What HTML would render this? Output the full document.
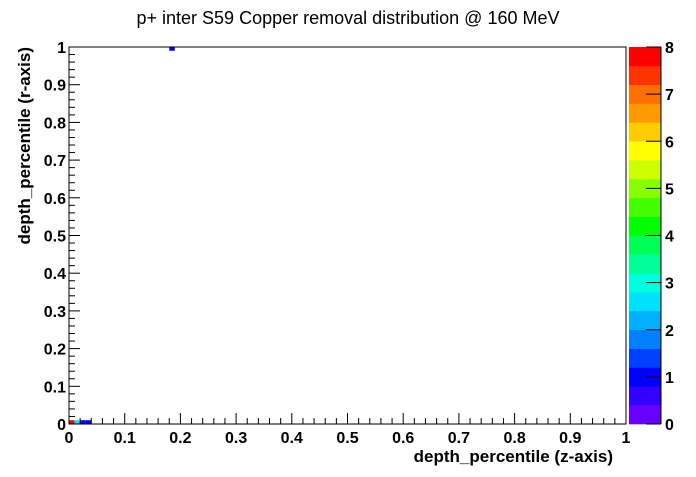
<!DOCTYPE html>
<html><head><meta charset="utf-8"><style>
body{margin:0;background:#fff}
svg text{font-family:"Liberation Sans",sans-serif}
</style></head><body>
<svg id="c" width="696" height="472" xmlns="http://www.w3.org/2000/svg">
<text x="348" y="24" text-anchor="middle" font-size="18">p+ inter S59 Copper removal distribution @ 160 MeV</text>
<g id="cells"></g>
<g id="axes"></g>
<text x="613" y="462" text-anchor="end" font-size="17" font-weight="bold">depth_percentile (z-axis)</text>
<text transform="translate(30,47) rotate(-90)" text-anchor="end" font-size="17" font-weight="bold">depth_percentile (r-axis)</text>
<g id="pal"></g>
</svg>
<script>
const cellX=[0,1,2,3,18];
const cellY=[0,0,0,0,99];
const cellV=[8,2.6,1,1,1];
const palColors=['#6600ff','#3300ff','#0000ff','#0040ff','#0080ff','#00b0ff','#00e0ff','#00ffdd','#00ff99','#00ff55','#00ff00','#44ff00','#88ff00','#ccff00','#ffff00','#ffcc00','#ff9900','#ff7000','#ff3300','#ff0000'];
const xTicks=['0','0.1','0.2','0.3','0.4','0.5','0.6','0.7','0.8','0.9','1'];
const yTicks=['0','0.1','0.2','0.3','0.4','0.5','0.6','0.7','0.8','0.9','1'];
const zTicks=['0','1','2','3','4','5','6','7','8'];
const zMax=8, nb=100;
const L=69,R=626,T=47,B=424;
const sx=v=>L+(R-L)*v, sy=v=>B-(B-T)*v;
const NS='http://www.w3.org/2000/svg';
function mk(t,a,p){const e=document.createElementNS(NS,t);for(const k in a)e.setAttribute(k,a[k]);p.appendChild(e);return e;}
const cells=document.getElementById('cells'),axes=document.getElementById('axes'),pal=document.getElementById('pal');
function col(v){let i=Math.floor(v/zMax*palColors.length);if(i>=palColors.length)i=palColors.length-1;return palColors[i];}
for(let i=0;i<cellX.length;i++){
 const x0=sx(cellX[i]/nb),x1=sx((cellX[i]+1)/nb),y1=sy(cellY[i]/nb),y0=sy((cellY[i]+1)/nb);
 const r=mk('rect',{x:x0,y:y0,width:x1-x0,height:y1-y0,fill:col(cellV[i])},cells);
 
 
}
mk('rect',{x:L,y:T,width:R-L,height:B-T,fill:'none',stroke:'#000','stroke-width':1},axes);
for(let i=0;i<=50;i++){
 const v=i/50,len=i%5==0?11:6;
 mk('line',{x1:sx(v),x2:sx(v),y1:B,y2:B-len,stroke:'#000'},axes);
 mk('line',{x1:L,x2:L+len,y1:sy(v),y2:sy(v),stroke:'#000'},axes);
}
xTicks.forEach((t,i)=>{const e=mk('text',{x:sx(i/10),y:B+19,'text-anchor':'middle','font-size':16,'font-weight':'bold'},axes);e.textContent=t;
 });
yTicks.forEach((t,i)=>{const e=mk('text',{x:L-3,y:sy(i/10)+6,'text-anchor':'end','font-size':16,'font-weight':'bold'},axes);e.textContent=t;
 });
const PL=629,PR=661,n=palColors.length;
palColors.forEach((c,i)=>{const h=(B-T)/n;const r=mk('rect',{x:PL,y:B-(i+1)*h,width:PR-PL,height:h+0.3,fill:c},pal);
 });
zTicks.forEach((t,i)=>{const y=B-(B-T)*(+t)/zMax;
 mk('line',{x1:PR-15,x2:PR,y1:y,y2:y,stroke:'#000'},pal);
 const e=mk('text',{x:PR+4,y:y+6,'font-size':16,'font-weight':'bold'},pal);e.textContent=t;
 });
mk('line',{x1:PR,x2:PR,y1:T,y2:B,stroke:'#000'},pal);
</script>
</body></html>
